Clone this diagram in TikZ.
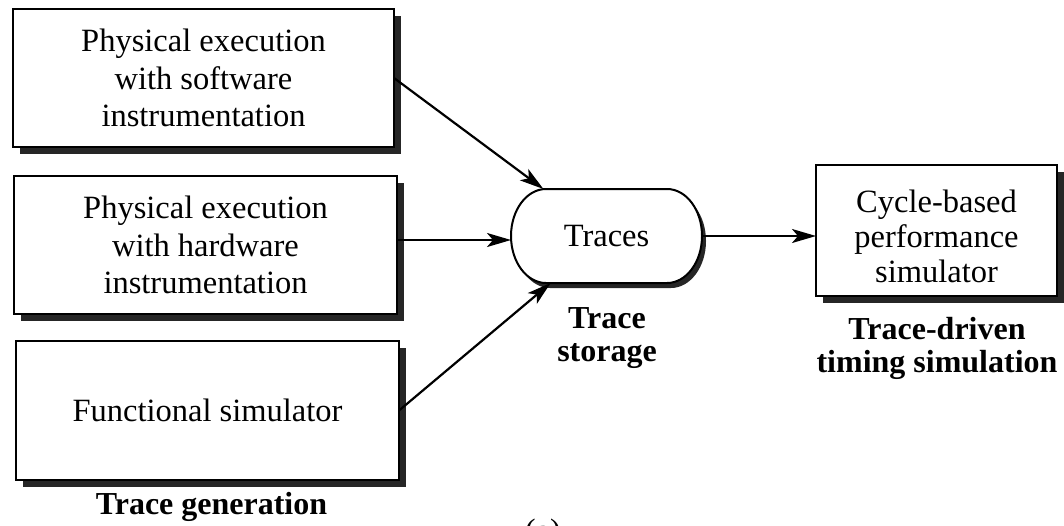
\documentclass[tikz,border=0pt]{standalone}
\usepackage{fontspec}
\setmainfont{Liberation Serif}
\usetikzlibrary{arrows.meta,calc,shadows,backgrounds}
\newcommand\plainfont{\fontsize{32.5}{37.5}\selectfont}
\newcommand\tightfont{\fontsize{32.5}{35}\selectfont}
\newcommand\labelfont{\fontsize{32}{33}\selectfont\bfseries}
% outline of the trace store: flat top and bottom, half-elliptic ends
\newcommand\storepath{%
  ($(traces.north east)+(-35,0)$)
  .. controls ($(traces.north east)+(-15.7,0)$) and ($(traces.east)+(0,-26)$) .. (traces.east)
  .. controls ($(traces.east)+(0,26)$) and ($(traces.south east)+(-15.7,0)$) .. ($(traces.south east)+(-35,0)$)
  -- ($(traces.south west)+(35,0)$)
  .. controls ($(traces.south west)+(15.7,0)$) and ($(traces.west)+(0,26)$) .. (traces.west)
  .. controls ($(traces.west)+(0,-26)$) and ($(traces.north west)+(15.7,0)$) .. ($(traces.north west)+(35,0)$)
  -- cycle}
\begin{document}
\begin{tikzpicture}[x=1pt,y=-1pt,
  procbox/.style={draw=black, line width=2pt, fill=white, align=center,
    inner sep=0pt, outer sep=0pt, font=\plainfont,
    drop shadow={shadow xshift=7pt, shadow yshift=-7pt, fill=black!85, opacity=1}},
  flow/.style={line width=2.2pt, -{Stealth[length=24pt,width=14pt,inset=6pt]}},
  stagelabel/.style={align=center, inner sep=0pt, font=\labelfont},
  storeline/.style={draw=black, line width=2pt, fill=white},
  storeshadow/.style={fill=black!85, transform canvas={xshift=4pt,yshift=-5pt}},
]
\clip (0,0) rectangle (1064,525);

% trace sources
\node[procbox, minimum width=381pt, minimum height=138pt] (swinst) at (203.5,78)
  {Physical execution\\with software\\instrumentation};
\node[procbox, minimum width=383pt, minimum height=138pt] (hwinst) at (205.5,245)
  {Physical execution\\with hardware\\instrumentation};
\node[procbox, minimum width=383pt, minimum height=139pt] (funcsim) at (207.5,410.5)
  {Functional simulator};

% trace store
\node[inner sep=0pt, outer sep=0pt, minimum width=191pt, minimum height=94pt,
  font=\plainfont] (traces) at (606.5,236) {Traces};
\begin{scope}[on background layer]
  \path[storeshadow] \storepath;
  \path[storeline] \storepath;
\end{scope}

% timing simulator (the strut lowers the text block a little)
\node[procbox, font=\tightfont, minimum width=241pt, minimum height=131pt] (cyclesim) at (936.5,230.5)
  {\rule{0pt}{34pt}Cycle-based\\performance\\simulator};

% connectors
\draw[flow] (swinst.east) -- (traces);
\draw[flow] ([yshift=-4pt]hwinst.east |- traces.west) -- ([yshift=-4pt]traces.west);
\draw[flow] (funcsim.east) -- (traces);
\draw[flow] (traces.east) -- (traces.east -| cyclesim.west);

% stage captions
\node[stagelabel, anchor=base] (genlabel) at (211.5,514) {Trace generation};
\node[stagelabel] (storelabel) at (607,338) {Trace\\storage};
\node[stagelabel] (timinglabel) at (937,348) {Trace-driven\\timing simulation};
\node[font=\plainfont, anchor=base, inner sep=0pt] (sublabel) at (543,541) {(a)};
\end{tikzpicture}
\end{document}
